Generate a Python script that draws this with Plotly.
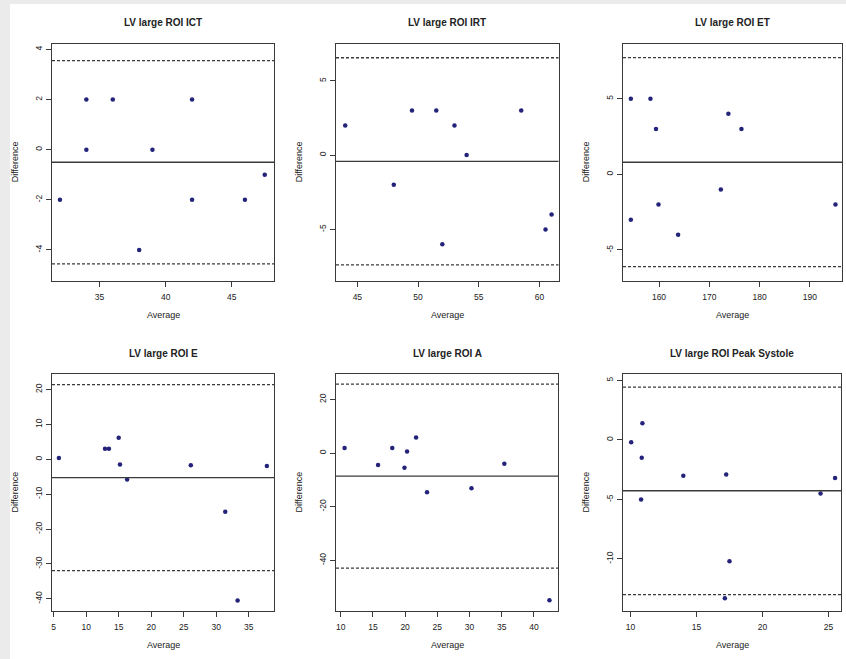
import plotly.graph_objects as go

# ---------------- data ----------------
titles = ["LV large ROI ICT", "LV large ROI IRT", "LV large ROI ET",
          "LV large ROI E", "LV large ROI A", "LV large ROI Peak Systole"]

ict_avg = [32, 34, 34, 36, 38, 39, 42, 42, 46, 47.5]
ict_diff = [-2, 2, 0, 2, -4, 0, 2, -2, -2, -1]

irt_avg = [44, 48, 49.5, 51.5, 52, 53, 54, 58.5, 60.5, 61]
irt_diff = [2, -2, 3, 3, -6, 2, 0, 3, -5, -4]

et_avg = [154.4, 154.4, 158.3, 159.4, 159.9, 163.8, 172.3, 173.8, 176.4, 195.1]
et_diff = [5, -3, 5, 3, -2, -4, -1, 4, 3, -2]

e_avg = [5.8, 12.9, 13.5, 15.0, 15.2, 16.3, 26.1, 31.4, 33.3, 37.8]
e_diff = [0.4, 3.0, 3.0, 6.2, -1.5, -5.8, -1.7, -15.0, -40.5, -1.9]

a_avg = [10.6, 15.8, 18.0, 19.9, 20.3, 21.7, 23.4, 30.3, 35.4, 42.4]
a_diff = [1.9, -4.4, 1.9, -5.5, 0.6, 5.8, -14.6, -13.1, -4.0, -54.9]

ps_avg = [10.05, 10.9, 10.85, 10.8, 14.0, 17.25, 17.5, 17.15, 24.4, 25.5]
ps_diff = [-0.2, 1.4, -1.5, -5.0, -3.0, -2.9, -10.2, -13.3, -4.5, -3.2]

bias = [-0.5, -0.42, 0.8, -5.25, -8.6, -4.27]
upper_loa = [3.56, 6.55, 7.71, 21.4, 25.7, 4.44]
lower_loa = [-4.56, -7.38, -6.10, -31.9, -42.9, -13.0]

x_ticks = [[35, 40, 45], [45, 50, 55, 60], [160, 170, 180, 190],
           [5, 10, 15, 20, 25, 30, 35], [10, 15, 20, 25, 30, 35, 40], [10, 15, 20, 25]]
y_ticks = [[-4, -2, 0, 2, 4], [-5, 0, 5], [-5, 0, 5],
           [-40, -30, -20, -10, 0, 10, 20], [-40, -20, 0, 20], [-10, -5, 0, 5]]

x_label = "Average"
y_label = "Difference"

avgs = [ict_avg, irt_avg, et_avg, e_avg, a_avg, ps_avg]
diffs = [ict_diff, irt_diff, et_diff, e_diff, a_diff, ps_diff]

# ---------------- layout geometry (pixels) ----------------
W, H = 846, 659
boxes = [  # x0, x1, ytop, ybottom
    (52, 274, 43.5, 281), (336, 558.5, 43.5, 281), (623, 842, 43.5, 281),
    (52, 274, 374, 611), (336, 558, 374, 611), (623, 841, 374, 611),
]
x_ranges = [[31.4, 48.2], [43.24, 61.57], [152.84, 196.4],
            [4.74, 38.9], [9.27, 43.73], [9.43, 25.95]]
y_ranges = [[-5.24, 4.24], [-8.47, 7.51], [-7.05, 8.65],
            [-43.5, 24.47], [-58.9, 29.5], [-14.37, 5.54]]

FONT = "Liberation Sans, Arial, sans-serif"
LINE = "#3a3a3a"
PT = "#23237a"

fig = go.Figure()
layout = dict(width=W, height=H, margin=dict(l=0, r=0, t=0, b=0),
              paper_bgcolor="white", plot_bgcolor="white", showlegend=False,
              font=dict(family=FONT, color="#222"))
shapes = [
    dict(type="rect", xref="paper", yref="paper", x0=0, x1=10 / W, y0=0, y1=1,
         fillcolor="#ebebeb", line=dict(width=0), layer="below"),
    dict(type="rect", xref="paper", yref="paper", x0=0, x1=1, y0=1 - 4 / H, y1=1,
         fillcolor="#ebebeb", line=dict(width=0), layer="below"),
]
annotations = []

for i in range(6):
    n = "" if i == 0 else str(i + 1)
    x0, x1, yt, yb = boxes[i]
    fig.add_trace(go.Scatter(x=avgs[i], y=diffs[i], mode="markers",
                             xaxis="x" + n, yaxis="y" + n,
                             marker=dict(size=4.5, color=PT),
                             hoverinfo="x+y"))
    axis_common = dict(showgrid=False, zeroline=False, showline=True, mirror=True,
                       linecolor=LINE, linewidth=1.2, ticks="outside", ticklen=5,
                       tickwidth=1, tickcolor=LINE,
                       tickfont=dict(size=8.5, family=FONT, color="#222"))
    layout["xaxis" + n] = dict(domain=[x0 / W, x1 / W], anchor="y" + n,
                               range=x_ranges[i], tickvals=x_ticks[i],
                               ticktext=[str(v) for v in x_ticks[i]],
                               ticklabelstandoff=3, **axis_common)
    layout["yaxis" + n] = dict(domain=[1 - yb / H, 1 - yt / H], anchor="x" + n,
                               range=y_ranges[i], tickvals=y_ticks[i],
                               ticktext=[str(v) for v in y_ticks[i]],
                               ticklabelstandoff=1,
                               tickangle=-90, **axis_common)
    xd = "x" + n + " domain"
    yd = "y" + n
    shapes.append(dict(type="line", xref=xd, yref=yd, x0=0, x1=1,
                       y0=bias[i], y1=bias[i], line=dict(color=LINE, width=1.3)))
    for v in (upper_loa[i], lower_loa[i]):
        shapes.append(dict(type="line", xref=xd, yref=yd, x0=0, x1=1, y0=v, y1=v,
                           line=dict(color=LINE, width=1.3, dash="3px,2px")))
    cx = (x0 + x1) / 2 / W
    cy = (yt + yb) / 2
    row_off = 0 if i < 3 else 330
    annotations.append(dict(text="<b>" + titles[i] + "</b>", xref="paper", yref="paper",
                            x=cx, y=1 - (23 + row_off) / H, showarrow=False,
                            xanchor="center", yanchor="middle",
                            font=dict(size=10, family=FONT, color="#222")))
    annotations.append(dict(text=x_label, xref="paper", yref="paper",
                            x=cx, y=1 - (315 + row_off) / H, showarrow=False,
                            xanchor="center", yanchor="middle",
                            font=dict(size=9, family=FONT, color="#222")))
    annotations.append(dict(text=y_label, xref="paper", yref="paper",
                            x=(x0 - 37) / W, y=1 - cy / H, showarrow=False,
                            textangle=-90, xanchor="center", yanchor="middle",
                            font=dict(size=9, family=FONT, color="#222")))

layout["shapes"] = shapes
layout["annotations"] = annotations
fig.update_layout(**layout)
fig.write_html("out.html", config={"displayModeBar": False},
               post_script="document.body.style.margin='0';"
                           "document.body.style.overflow='hidden';")
